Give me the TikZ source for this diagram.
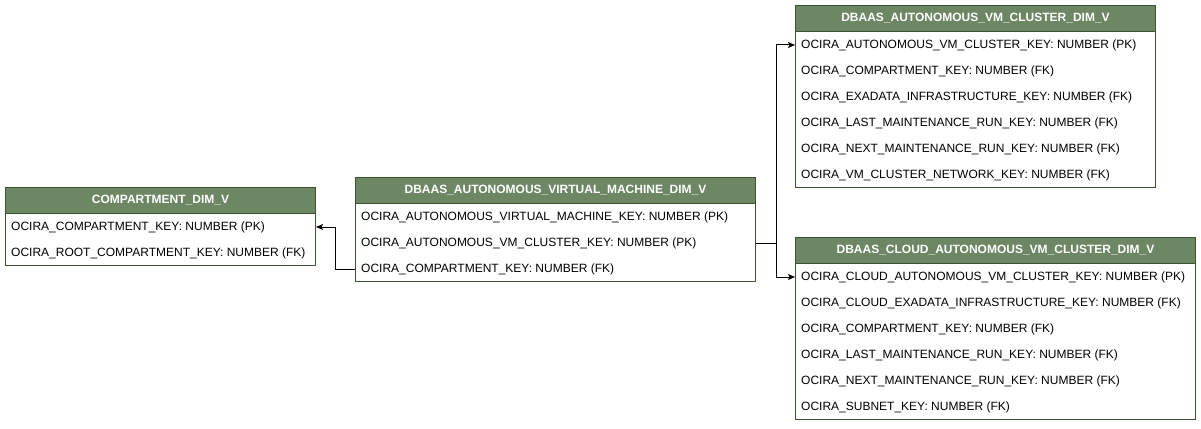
\documentclass[tikz,border=0pt]{standalone}
\usepackage{fontspec}
\setmainfont{Liberation Sans}
\usetikzlibrary{arrows.meta, positioning}
\definecolor{hdrfill}{HTML}{6D8764}
\definecolor{hdrline}{HTML}{3A5431}

\begin{document}
\begin{tikzpicture}
[x=1pt, y=-1pt, font=\fontsize{12}{14}\selectfont,
 tablehead/.style={draw=hdrline, fill=hdrfill, line width=1pt, text=white,
   font=\fontsize{12}{14}\selectfont\bfseries, minimum height=26pt,
   inner sep=0pt, anchor=north west},
 tablebody/.style={draw=hdrline, fill=white, line width=1pt, inner sep=0pt,
   anchor=north west},
 field/.style={anchor=west, inner xsep=6pt, inner ysep=0pt, yshift=-1pt},
 fk/.style={-{Stealth[length=7pt, width=6pt, inset=1.5pt]}, line width=1pt}]

\useasboundingbox (0,0) rectangle (1201,428);

% compartment table
\node [tablebody, minimum width=310pt, minimum height=52pt] (cmp body) at (5,213) {};
\node [tablehead, minimum width=310pt] (cmp head) at (5,187) {COMPARTMENT\_DIM\_V};
\foreach \f [count=\i] in {OCIRA\_COMPARTMENT\_KEY: NUMBER (PK),
	OCIRA\_ROOT\_COMPARTMENT\_KEY: NUMBER (FK)}{
	\node [field] (cmp row \i) at (5, 200+26*\i) {\f};
}

% virtual machine table
\node [tablebody, minimum width=400pt, minimum height=78pt] (vm body) at (355,203) {};
\node [tablehead, minimum width=400pt] (vm head) at (355,177) {DBAAS\_AUTONOMOUS\_VIRTUAL\_MACHINE\_DIM\_V};
\foreach \f [count=\i] in {OCIRA\_AUTONOMOUS\_VIRTUAL\_MACHINE\_KEY: NUMBER (PK),
	OCIRA\_AUTONOMOUS\_VM\_CLUSTER\_KEY: NUMBER (PK),
	OCIRA\_COMPARTMENT\_KEY: NUMBER (FK)}{
	\node [field] (vm row \i) at (355, 190+26*\i) {\f};
}

% vm cluster table
\node [tablebody, minimum width=360pt, minimum height=156pt] (vmc body) at (795,31) {};
\node [tablehead, minimum width=360pt] (vmc head) at (795,5) {DBAAS\_AUTONOMOUS\_VM\_CLUSTER\_DIM\_V};
\foreach \f [count=\i] in {OCIRA\_AUTONOMOUS\_VM\_CLUSTER\_KEY: NUMBER (PK),
	OCIRA\_COMPARTMENT\_KEY: NUMBER (FK),
	OCIRA\_EXADATA\_INFRASTRUCTURE\_KEY: NUMBER (FK),
	OCIRA\_LAST\_MAINTENANCE\_RUN\_KEY: NUMBER (FK),
	OCIRA\_NEXT\_MAINTENANCE\_RUN\_KEY: NUMBER (FK),
	OCIRA\_VM\_CLUSTER\_NETWORK\_KEY: NUMBER (FK)}{
	\node [field] (vmc row \i) at (795, 18+26*\i) {\f};
}

% cloud vm cluster table
\node [tablebody, minimum width=400pt, minimum height=156pt] (cvmc body) at (795,263) {};
\node [tablehead, minimum width=400pt] (cvmc head) at (795,237) {DBAAS\_CLOUD\_AUTONOMOUS\_VM\_CLUSTER\_DIM\_V};
\foreach \f [count=\i] in {OCIRA\_CLOUD\_AUTONOMOUS\_VM\_CLUSTER\_KEY: NUMBER (PK),
	OCIRA\_CLOUD\_EXADATA\_INFRASTRUCTURE\_KEY: NUMBER (FK),
	OCIRA\_COMPARTMENT\_KEY: NUMBER (FK),
	OCIRA\_LAST\_MAINTENANCE\_RUN\_KEY: NUMBER (FK),
	OCIRA\_NEXT\_MAINTENANCE\_RUN\_KEY: NUMBER (FK),
	OCIRA\_SUBNET\_KEY: NUMBER (FK)}{
	\node [field] (cvmc row \i) at (795, 250+26*\i) {\f};
}

% references
\draw [fk] (vm row 3.west) -- ++(-20,0) |- (cmp body.east |- cmp row 1);
\draw [fk] (vm body.east |- vm row 2) -- ++(20,0) |- (vmc row 1.west);
\draw [fk] (vm body.east |- vm row 2) -- ++(20,0) |- (cvmc row 1.west);
\end{tikzpicture}
\end{document}
